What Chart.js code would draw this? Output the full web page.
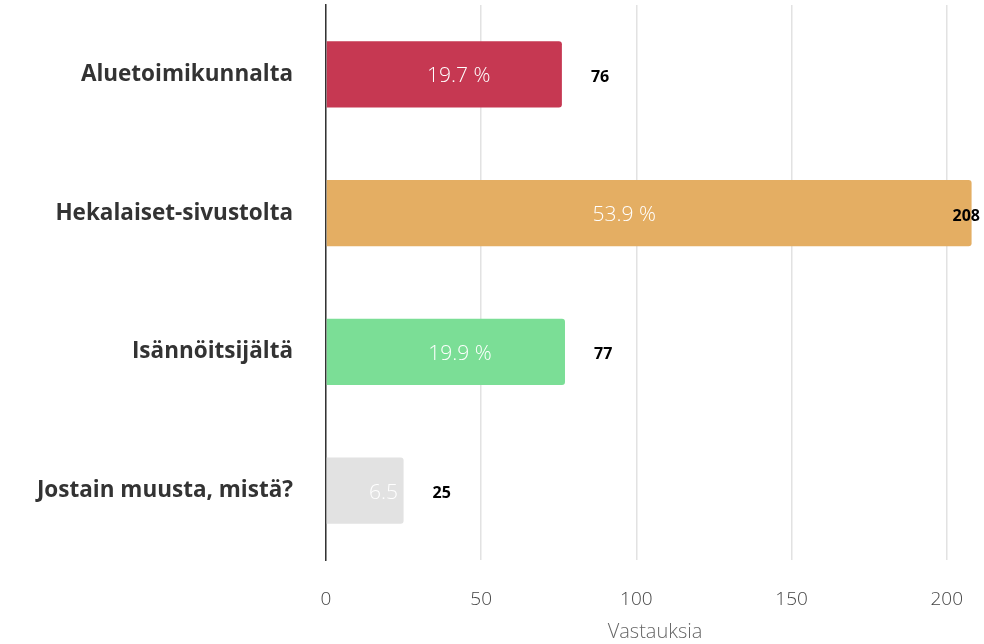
<!DOCTYPE html>
<html lang="fi">

<head>
    <meta charset="UTF-8">
    <title>Vastauksia</title>
    <style>
        html, body { margin: 0; padding: 0; background: #fff; }
        #wrap { width: 984px; height: 644px; }
    </style>
</head>

<body>
    <div id="wrap"><canvas id="myChart"></canvas></div>

    <script src="https://cdn.jsdelivr.net/npm/chart.js"></script>
    <script>
        // data
        var categories = ["Aluetoimikunnalta", "Hekalaiset-sivustolta", "Isännöitsijältä", "Jostain muusta, mistä?"];
        var answers = [76, 208, 77, 25];
        var barColors = ["#c63852", "#e4ae63", "#7bde96", "#e2e2e2"];
        var xTicks = [0, 50, 100, 150, 200];

        var total = answers.reduce(function (a, b) { return a + b; }, 0);

        // percent inside the bar, count to the right of it
        var barLabels = {
            id: "barLabels",
            afterDatasetsDraw: function (chart) {
                var ctx = chart.ctx;
                var meta = chart.getDatasetMeta(0);
                ctx.save();
                ctx.textBaseline = "middle";
                meta.data.forEach(function (bar, i) {
                    var w = bar.x - bar.base;
                    var pct = (answers[i] / total * 100).toFixed(1) + " %";
                    ctx.font = "300 21px 'Open Sans'";
                    ctx.fillStyle = "#ffffff";
                    ctx.textAlign = "center";
                    ctx.fillText(pct, bar.base + w * 0.404 + 37, bar.y + 2);

                    ctx.font = "bold 16px 'Open Sans'";
                    ctx.fillStyle = "#000000";
                    ctx.textAlign = "left";
                    var tw = ctx.measureText(String(answers[i])).width;
                    var x = Math.min(bar.x + 29, chart.width - 4 - tw);
                    ctx.fillText(String(answers[i]), x, bar.y + 3);
                });
                ctx.restore();
            }
        };

        var ctx = document.getElementById("myChart").getContext("2d");
        var myChart = new Chart(ctx, {
            type: "bar",
            data: {
                labels: categories,
                datasets: [{
                    data: answers,
                    backgroundColor: barColors,
                    borderRadius: 3,
                    borderSkipped: "start",
                    categoryPercentage: 1,
                    barPercentage: 0.476
                }]
            },
            options: {
                indexAxis: "y",
                responsive: true,
                maintainAspectRatio: false,
                animation: false,
                layout: { padding: { top: 5, right: 0, left: 0, bottom: 0 } },
                plugins: {
                    legend: { display: false },
                    tooltip: { enabled: false }
                },
                scales: {
                    x: {
                        min: 0,
                        max: 212,
                        afterBuildTicks: function (scale) {
                            scale.ticks = xTicks.map(function (v) { return { value: v }; });
                        },
                        afterFit: function (scale) {
                            scale.height = 84;
                            scale.paddingLeft = 0;
                            scale.paddingRight = 0;
                        },
                        grid: { color: "#e2e2e2", lineWidth: 1.5, drawTicks: false },
                        border: { display: false },
                        ticks: {
                            padding: 28,
                            color: "#444",
                            font: { family: "'Open Sans'", size: 19, weight: "300" }
                        },
                        title: {
                            display: true,
                            text: "Vastauksia",
                            color: "#666",
                            padding: { top: 2, bottom: 0 },
                            font: { family: "'Open Sans'", size: 20, weight: "300" }
                        }
                    },
                    y: {
                        afterFit: function (scale) {
                            scale.width = 326;
                            scale.paddingTop = 0;
                            scale.paddingBottom = 0;
                        },
                        grid: { display: false, drawTicks: false },
                        border: { display: true, color: "#333", width: 1.5 },
                        ticks: {
                            padding: 33,
                            color: "#333",
                            font: { family: "'Open Sans'", size: 22.5, weight: "bold" }
                        }
                    }
                }
            },
            plugins: [barLabels]
        });
    </script>
</body>

</html>
